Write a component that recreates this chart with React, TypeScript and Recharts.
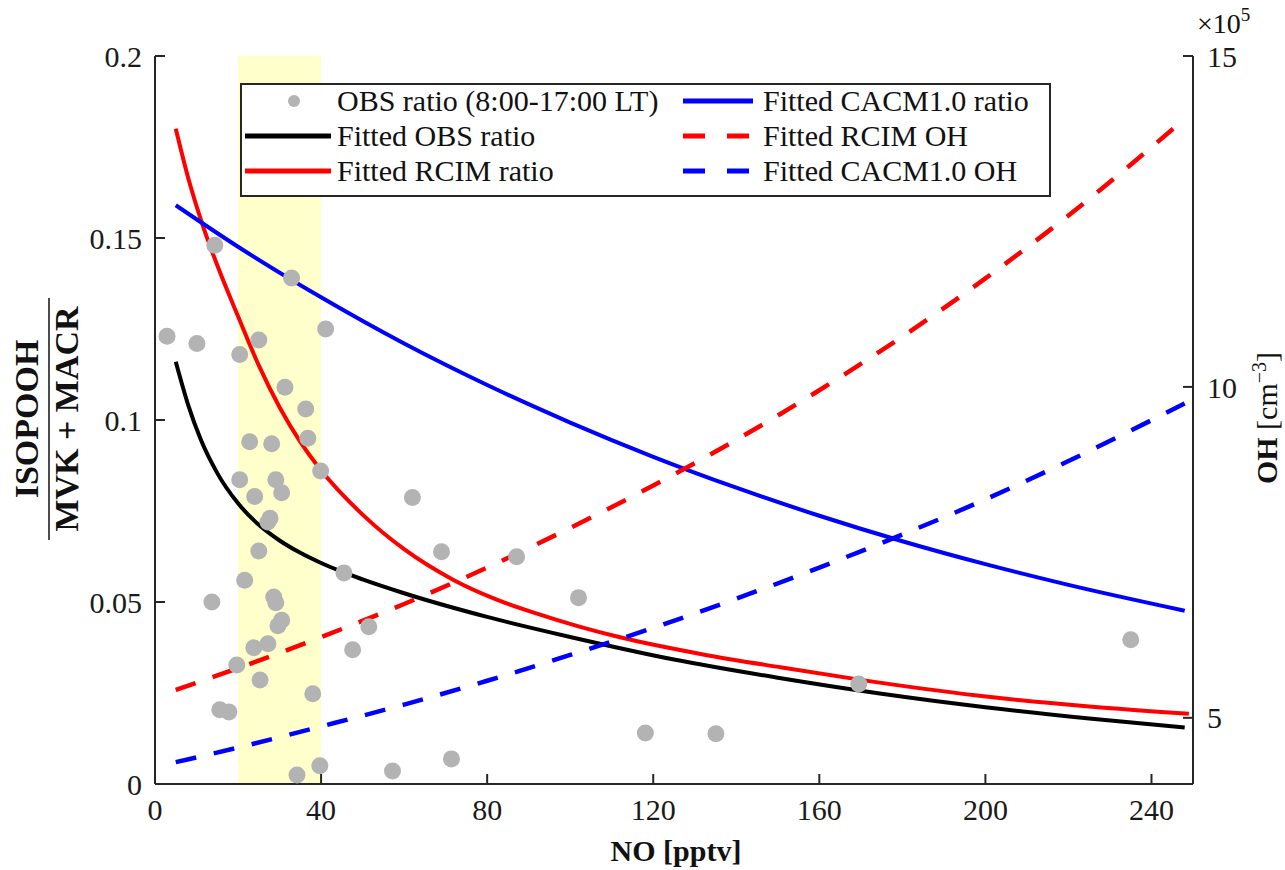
import React from "react";
import {
  ComposedChart,
  Scatter,
  Line,
  XAxis,
  YAxis,
  ReferenceArea,
  Legend,
} from "recharts";

const FONT = '"Liberation Serif", "Times New Roman", serif';
const AXIS = "#262626";

// observed ISOPOOH/(MVK+MACR) ratio vs NO (8:00-17:00 LT)
const obsNo = [
  2.9, 10.1, 14.4, 20.4, 25.0, 32.9, 41.1, 31.3, 36.3, 22.8, 28.1, 36.8, 39.9, 20.4, 29.1, 24.0,
  30.5, 27.7, 27.2, 25.0, 21.6, 13.7, 28.6, 29.1, 30.5, 29.6, 23.8, 27.2, 19.7, 25.3, 15.6, 17.8,
  38.0, 34.2, 39.7, 45.5, 47.6, 51.5, 57.2, 62.0, 69.0, 71.4, 87.1, 102.0, 118.1, 135.1, 169.5, 235.0,
];
const obsRatio = [
  0.123, 0.121, 0.148, 0.118, 0.122, 0.139, 0.125, 0.109, 0.103, 0.094, 0.0935, 0.095, 0.086, 0.0836,
  0.0836, 0.079, 0.08, 0.073, 0.072, 0.064, 0.056, 0.05, 0.0514, 0.0498, 0.045, 0.0435, 0.0374, 0.0385,
  0.0327, 0.0286, 0.0204, 0.0198, 0.0248, 0.0025, 0.005, 0.058, 0.0369, 0.0432, 0.0036, 0.0787, 0.0638,
  0.0069, 0.0624, 0.0512, 0.014, 0.0138, 0.0275, 0.0396,
];

// fitted curves (left axis, ratio)
const obsFitNo = [5, 8, 11, 15, 20, 25, 30, 35, 40, 50, 60, 80, 100, 125, 150, 175, 200, 225, 248];
const obsFitRatio = [
  0.116, 0.1041, 0.0947, 0.0854, 0.0771, 0.0712, 0.0669, 0.0635, 0.0607, 0.0562, 0.0524, 0.0459,
  0.0404, 0.0342, 0.0292, 0.0248, 0.0211, 0.018, 0.0155,
];
const rcimFitNo = [5, 8, 11.5, 15, 20, 25, 30, 35, 40, 50, 60, 72, 82, 92, 102, 112, 132, 151, 170, 198, 225, 249];
const rcimFitRatio = [
  0.18, 0.1665, 0.1535, 0.1425, 0.1285, 0.115, 0.1035, 0.094, 0.0862, 0.074, 0.0645, 0.056, 0.0508,
  0.0468, 0.0433, 0.0403, 0.0356, 0.032, 0.0286, 0.0243, 0.0213, 0.0193,
];
const cacmFitNo = [5, 20, 40, 60, 80, 100, 120, 140, 160, 180, 200, 220, 248];
const cacmFitRatio = [
  0.159, 0.1476, 0.1337, 0.121, 0.1096, 0.0993, 0.0899, 0.0814, 0.0737, 0.0667, 0.0604, 0.0547, 0.0476,
];

// fitted OH (right axis, x10^5 cm^-3)
const ohNo = [5, 20, 40, 60, 80, 100, 120, 140, 160, 180, 200, 220, 248];
const rcimOh = [5.42, 5.75, 6.22, 6.72, 7.27, 7.87, 8.51, 9.2, 9.95, 10.76, 11.64, 12.59, 14.05];
const cacmOh = [4.33, 4.55, 4.87, 5.2, 5.56, 5.95, 6.36, 6.8, 7.27, 7.77, 8.3, 8.88, 9.75];

const xTicks = [0, 40, 80, 120, 160, 200, 240];
const leftTicks = [0, 0.05, 0.1, 0.15, 0.2];
const rightTicks = [5, 10, 15];
const shadeRange = [20, 40];

const legendItems = [
  { label: "OBS ratio (8:00-17:00 LT)", kind: "dot", color: "#b3b3b3" },
  { label: "Fitted OBS ratio", kind: "solid", color: "#000000" },
  { label: "Fitted RCIM ratio", kind: "solid", color: "#ff0000" },
  { label: "Fitted CACM1.0 ratio", kind: "solid", color: "#0000ff" },
  { label: "Fitted RCIM OH", kind: "dash", color: "#ff0000" },
  { label: "Fitted CACM1.0 OH", kind: "dash", color: "#0000ff" },
];

const zip = (xs: number[], ys: number[], key: string) =>
  xs.map((x, i) => ({ no: x, [key]: ys[i] }));

const obsData = zip(obsNo, obsRatio, "ratio");
const obsFit = zip(obsFitNo, obsFitRatio, "ratio");
const rcimFit = zip(rcimFitNo, rcimFitRatio, "ratio");
const cacmFit = zip(cacmFitNo, cacmFitRatio, "ratio");
const rcimOhData = zip(ohNo, rcimOh, "oh");
const cacmOhData = zip(ohNo, cacmOh, "oh");

const tickStyle = { fill: "#1a1a1a", fontSize: 30, fontFamily: FONT };

const renderLegend = () => {
  const cols = [legendItems.slice(0, 3), legendItems.slice(3)];
  return (
    <div
      style={{
        width: 811,
        height: 114,
        boxSizing: "border-box",
        border: `2px solid ${AXIS}`,
        background: "#fff",
        position: "relative",
        fontFamily: FONT,
        fontSize: 30,
        color: "#111",
      }}
    >
      {cols.map((col, ci) =>
        col.map((it, ri) => {
          const symLeft = ci === 0 ? 3 : 441;
          const symW = ci === 0 ? 86 : 70;
          const textLeft = ci === 0 ? 95 : 521;
          const top = 16 + ri * 35;
          return (
            <div key={it.label}>
              <svg
                width={symW}
                height={12}
                style={{ position: "absolute", left: symLeft, top: top - 6 }}
              >
                {it.kind === "dot" && <circle cx={symW / 2 + 6} cy={6} r={6} fill={it.color} />}
                {it.kind === "solid" && (
                  <line x1={0} x2={symW} y1={6} y2={6} stroke={it.color} strokeWidth={5} />
                )}
                {it.kind === "dash" && (
                  <line
                    x1={0}
                    x2={symW}
                    y1={6}
                    y2={6}
                    stroke={it.color}
                    strokeWidth={5}
                    strokeDasharray="22 22"
                  />
                )}
              </svg>
              <span
                style={{
                  position: "absolute",
                  left: textLeft,
                  top: top - 18,
                  lineHeight: "36px",
                  whiteSpace: "nowrap",
                }}
              >
                {it.label}
              </span>
            </div>
          );
        })
      )}
    </div>
  );
};

export default function App() {
  return (
    <div style={{ position: "absolute", left: 0, top: 0, width: 1285, height: 870, background: "#fff" }}>
      <ComposedChart
        width={1285}
        height={870}
        margin={{ top: 56, right: 12, bottom: 36, left: 75 }}
      >
        <XAxis
          dataKey="no"
          type="number"
          domain={[0, 250]}
          ticks={xTicks}
          allowDataOverflow
          height={50}
          stroke={AXIS}
          strokeWidth={2}
          tickSize={-10}
          tickMargin={25}
          tick={tickStyle}
        />
        <XAxis
          xAxisId="top"
          orientation="top"
          dataKey="no"
          type="number"
          domain={[0, 250]}
          ticks={xTicks}
          allowDataOverflow
          height={0}
          stroke={AXIS}
          strokeWidth={2}
          tickSize={-10}
          tickFormatter={() => ""}
        />
        <YAxis
          yAxisId="left"
          dataKey="ratio"
          type="number"
          domain={[0, 0.2]}
          ticks={leftTicks}
          allowDataOverflow
          width={80}
          stroke={AXIS}
          strokeWidth={2}
          tickSize={-10}
          tickMargin={23}
          tick={tickStyle}
        />
        <YAxis
          yAxisId="right"
          orientation="right"
          dataKey="oh"
          type="number"
          domain={[4, 15]}
          ticks={rightTicks}
          allowDataOverflow
          width={80}
          stroke={AXIS}
          strokeWidth={2}
          tickSize={-10}
          tickMargin={24}
          tick={tickStyle}
        />
        <ReferenceArea
          yAxisId="left"
          x1={shadeRange[0]}
          x2={shadeRange[1]}
          y1={0}
          y2={0.2}
          fill="#ffffcc"
          fillOpacity={1}
          stroke="none"
        />
        <Scatter
          yAxisId="left"
          data={obsData}
          dataKey="ratio"
          isAnimationActive={false}
          shape={(p: any) => <circle cx={p.cx} cy={p.cy} r={8.5} fill="#b3b3b3" />}
        />
        <Line yAxisId="left" data={obsFit} dataKey="ratio" type="monotone" stroke="#000000" strokeWidth={4} dot={false} activeDot={false} isAnimationActive={false} />
        <Line yAxisId="left" data={rcimFit} dataKey="ratio" type="monotone" stroke="#ff0000" strokeWidth={4} dot={false} activeDot={false} isAnimationActive={false} />
        <Line yAxisId="left" data={cacmFit} dataKey="ratio" type="monotone" stroke="#0000ff" strokeWidth={4} dot={false} activeDot={false} isAnimationActive={false} />
        <Line yAxisId="right" data={rcimOhData} dataKey="oh" type="monotone" stroke="#ff0000" strokeWidth={4.5} strokeDasharray="21 18" dot={false} activeDot={false} isAnimationActive={false} />
        <Line yAxisId="right" data={cacmOhData} dataKey="oh" type="monotone" stroke="#0000ff" strokeWidth={4.5} strokeDasharray="21 18" dot={false} activeDot={false} isAnimationActive={false} />
        <Legend
          verticalAlign="middle"
          layout="horizontal"
          content={renderLegend}
          wrapperStyle={{ left: 240, top: 83, width: 811, height: 114 }}
        />
      </ComposedChart>
      <svg
        width={1285}
        height={870}
        style={{ position: "absolute", left: 0, top: 0, pointerEvents: "none" }}
        fontFamily={FONT}
      >
        <g transform="translate(49,419) rotate(-90)">
          <text x={0} y={-11} textAnchor="middle" fontSize={34} fontWeight="bold" fill="#111">
            ISOPOOH
          </text>
          <line x1={-121} x2={121} y1={0} y2={0} stroke="#111" strokeWidth={1.5} />
          <text x={0} y={29} textAnchor="middle" fontSize={34} fontWeight="bold" fill="#111">
            MVK + MACR
          </text>
        </g>
        <text
          transform="translate(1277,418) rotate(-90)"
          textAnchor="middle"
          fontSize={30}
          fill="#111"
        >
          <tspan fontWeight="bold">OH </tspan>
          <tspan>[cm</tspan>
          <tspan dy={-11} fontSize={20}>−3</tspan>
          <tspan dy={11}>]</tspan>
        </text>
        <text x={676} y={861} textAnchor="middle" fontSize={30} fontWeight="bold" fill="#111">
          NO [pptv]
        </text>
        <text x={1197} y={33} fontSize={28} fill="#111">
          ×10
          <tspan dy={-12} fontSize={19}>5</tspan>
        </text>
      </svg>
    </div>
  );
}
